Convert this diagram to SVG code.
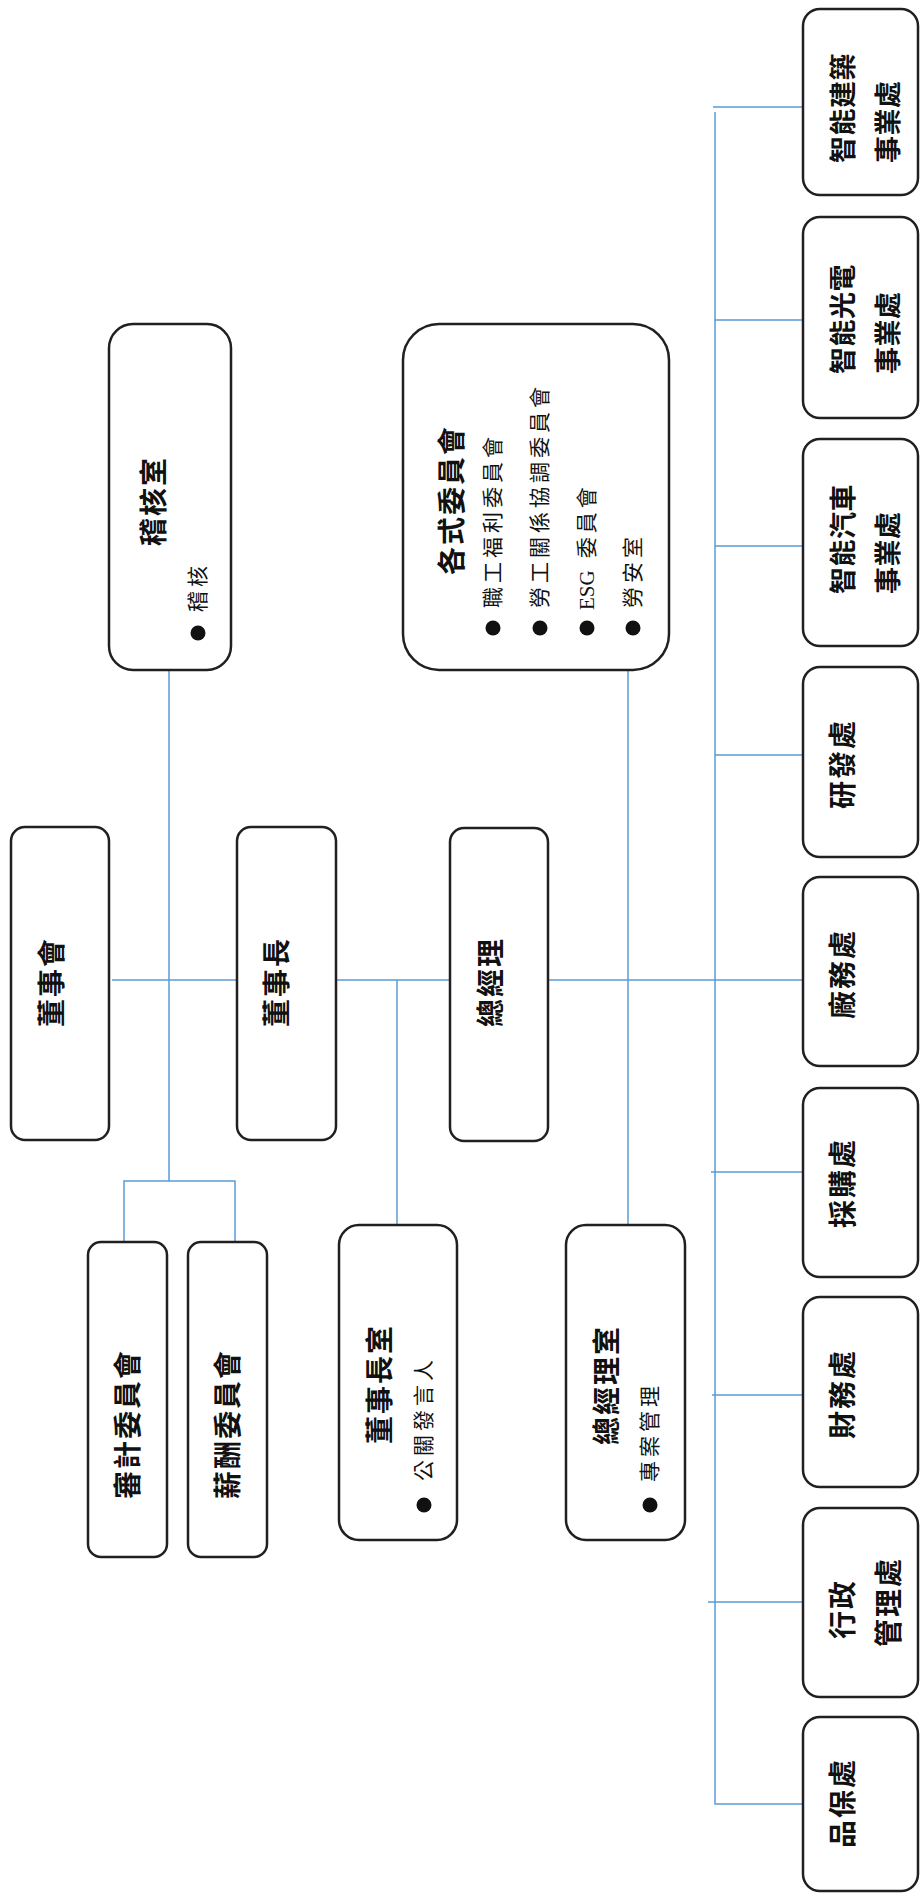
<svg xmlns="http://www.w3.org/2000/svg" width="921" height="1898" viewBox="0 0 921 1898">
<style>
.box{fill:#fff;stroke:#231f20;stroke-width:2.5}
.c{fill:none;stroke:#5b9bd5;stroke-width:1.5}
.t{font-family:"Noto Sans CJK TC","Noto Sans CJK SC",sans-serif;font-weight:bold;font-size:28px;fill:#111;text-anchor:middle;dominant-baseline:central;letter-spacing:2px}
.ts{font-family:"Noto Sans CJK TC","Noto Sans CJK SC",sans-serif;font-weight:bold;font-size:27px;fill:#111;text-anchor:start;dominant-baseline:central;letter-spacing:0.5px}
.s{font-family:"Liberation Serif","Noto Sans CJK TC",serif;font-size:21px;fill:#111;text-anchor:start;dominant-baseline:central;letter-spacing:4px}
.dot{fill:#111}
</style>
<rect width="921" height="1898" fill="#fff"/>
<g id="connectors">
<path class="c" d="M112 980H237M336 980H450M548 980H803"/>
<path class="c" d="M169 670V1181M124 1242V1181H235V1242"/>
<path class="c" d="M397 980V1225"/>
<path class="c" d="M628 670V1225"/>
<path class="c" d="M715 112V1804H803"/>
<path class="c" d="M713 107H803M715 320H803M715 546H803M715 755H812M711 1172H803M712 1395H803M708 1602H803"/>
</g>
<g id="jihe">
<rect class="box" x="109" y="324" width="122" height="346" rx="24"/>
<text class="t" transform="translate(152,501) rotate(-90)">稽核室</text>
<circle class="dot" cx="198" cy="633" r="7.5"/>
<text class="s" transform="translate(198,612) rotate(-90)">稽核</text>
</g>
<g id="committees">
<rect class="box" x="403" y="324" width="266" height="346" rx="36"/>
<text class="t" transform="translate(450,500) rotate(-90)">各式委員會</text>
<circle class="dot" cx="493" cy="628" r="7.5"/>
<circle class="dot" cx="540" cy="628" r="7.5"/>
<circle class="dot" cx="587" cy="628" r="7.5"/>
<circle class="dot" cx="633" cy="628" r="7.5"/>
<text class="s" transform="translate(493,608) rotate(-90)">職工福利委員會</text>
<text class="s" transform="translate(540,608) rotate(-90)">勞工關係協調委員會</text>
<text class="s" transform="translate(587,610) rotate(-90)"><tspan letter-spacing="0">ESG</tspan><tspan dx="12">委員會</tspan></text>
<text class="s" transform="translate(633,608) rotate(-90)">勞安室</text>
</g>
<g id="board">
<rect class="box" x="11" y="827" width="98" height="313" rx="14"/>
<text class="t" transform="translate(50,982) rotate(-90)">董事會</text>
</g>
<g id="chairman">
<rect class="box" x="237" y="827" width="99" height="313" rx="14"/>
<text class="t" transform="translate(275,982) rotate(-90)">董事長</text>
</g>
<g id="gm">
<rect class="box" x="450" y="828" width="98" height="313" rx="14"/>
<text class="t" transform="translate(489,982) rotate(-90)">總經理</text>
</g>
<g id="audit">
<rect class="box" x="88" y="1242" width="79" height="315" rx="13"/>
<text class="t" transform="translate(126,1424) rotate(-90)">審計委員會</text>
</g>
<g id="remuneration">
<rect class="box" x="188" y="1242" width="79" height="315" rx="13"/>
<text class="t" transform="translate(226,1424) rotate(-90)">薪酬委員會</text>
</g>
<g id="chairman-office">
<rect class="box" x="339" y="1225" width="118" height="315" rx="20"/>
<text class="t" transform="translate(378,1384) rotate(-90)">董事長室</text>
<circle class="dot" cx="424" cy="1505" r="7.5"/>
<text class="s" transform="translate(424,1481) rotate(-90)">公關發言人</text>
</g>
<g id="gm-office">
<rect class="box" x="566" y="1225" width="119" height="315" rx="20"/>
<text class="t" transform="translate(605,1385) rotate(-90)">總經理室</text>
<circle class="dot" cx="650" cy="1505" r="7.5"/>
<text class="s" transform="translate(650,1482) rotate(-90)">專案管理</text>
</g>
<g id="smart-building">
<rect class="box" x="803" y="9" width="115" height="186" rx="17"/>
<text class="ts" transform="translate(841,163) rotate(-90)">智能建築</text>
<text class="ts" transform="translate(886,163) rotate(-90)">事業處</text>
</g>
<g id="smart-optical">
<rect class="box" x="803" y="217" width="115" height="201" rx="17"/>
<text class="ts" transform="translate(841,374) rotate(-90)">智能光電</text>
<text class="ts" transform="translate(886,374) rotate(-90)">事業處</text>
</g>
<g id="smart-auto">
<rect class="box" x="803" y="439" width="115" height="207" rx="17"/>
<text class="ts" transform="translate(841,594) rotate(-90)">智能汽車</text>
<text class="ts" transform="translate(886,594) rotate(-90)">事業處</text>
</g>
<g id="rd">
<rect class="box" x="803" y="667" width="115" height="190" rx="17"/>
<text class="t" font-size="27" transform="translate(841,764) rotate(-90)">研發處</text>
</g>
<g id="facility">
<rect class="box" x="803" y="877" width="115" height="189" rx="17"/>
<text class="t" font-size="27" transform="translate(841,974) rotate(-90)">廠務處</text>
</g>
<g id="purchasing">
<rect class="box" x="803" y="1088" width="115" height="189" rx="17"/>
<text class="t" font-size="27" transform="translate(841,1183) rotate(-90)">採購處</text>
</g>
<g id="finance">
<rect class="box" x="803" y="1297" width="115" height="190" rx="17"/>
<text class="t" font-size="27" transform="translate(841,1394) rotate(-90)">財務處</text>
</g>
<g id="admin">
<rect class="box" x="803" y="1508" width="115" height="189" rx="17"/>
<text class="t" font-size="27" transform="translate(841,1609) rotate(-90)">行政</text>
<text class="t" font-size="27" transform="translate(887,1602) rotate(-90)">管理處</text>
</g>
<g id="qa">
<rect class="box" x="803" y="1717" width="115" height="174" rx="17"/>
<text class="t" font-size="27" transform="translate(841,1803) rotate(-90)">品保處</text>
</g>
</svg>
